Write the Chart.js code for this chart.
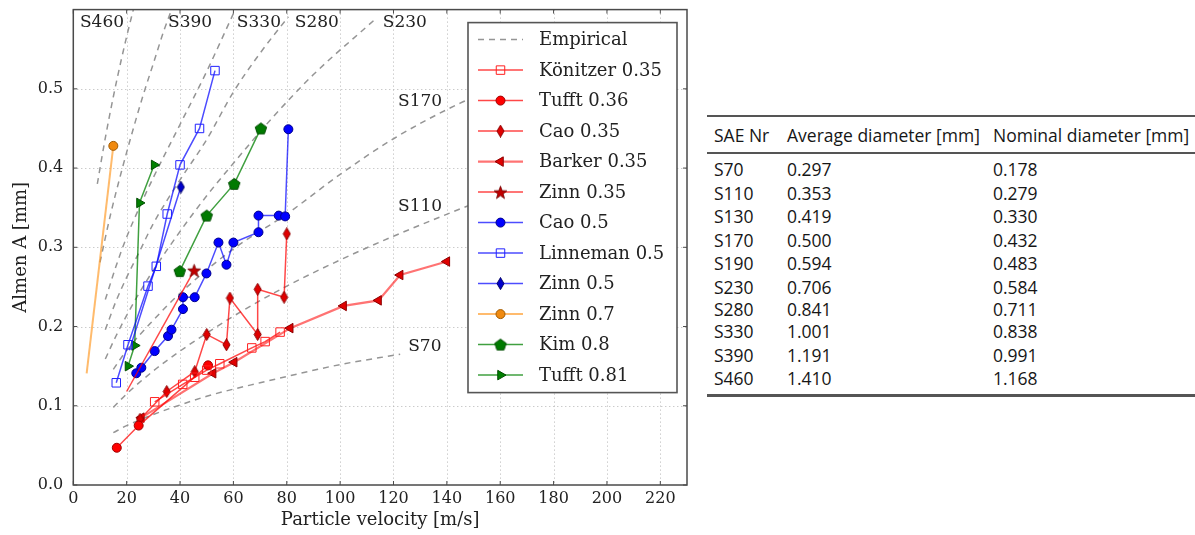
<!DOCTYPE html>
<html><head><meta charset="utf-8">
<script src="https://cdn.jsdelivr.net/npm/chart.js@4.4.0/dist/chart.umd.min.js"></script>
<style>
html,body{margin:0;padding:0;background:#fff;width:1195px;height:535px;overflow:hidden}
#wrap{position:absolute;left:0;top:0;width:700px;height:535px}
#tbl{position:absolute;left:707px;top:0;width:488px;height:535px;font-family:'Open Sans',sans-serif;color:#161616;font-size:17.5px}
.rule{position:absolute;left:0;width:488px;background:#555}
.cell{position:absolute;white-space:nowrap;transform:translateY(-50%);line-height:22px}
</style></head>
<body>
<div id="wrap"><canvas id="c" width="700" height="535"></canvas></div>
<div id="tbl"></div>
<script>
// ---------- axis ticks ----------
const xTicks = [0,20,40,60,80,100,120,140,160,180,200,220];
const yTicks = [0.0,0.1,0.2,0.3,0.4,0.5];

// ---------- empirical curves (velocity m/s, Almen A mm) ----------
const s460V = [9,12,15,18,20,22.5];
const s460A = [0.380,0.438,0.490,0.537,0.566,0.600];
const s390V = [10,14,18,22,26,30,34,36.5];
const s390A = [0.281,0.342,0.395,0.444,0.490,0.532,0.574,0.597];
const s330V = [12,16,20,25,30,40,50,60];
const s330A = [0.234,0.276,0.313,0.352,0.388,0.455,0.522,0.595];
const s280V = [12,16,20,25,30,40,50,60,70,80.6];
const s280A = [0.196,0.232,0.262,0.296,0.330,0.385,0.436,0.496,0.545,0.591];
const s230V = [12,16,20,25,30,40,50,60,75,90,112.5];
const s230A = [0.159,0.188,0.214,0.244,0.271,0.320,0.365,0.406,0.465,0.518,0.586];
const s170V = [15,20,30,40,60,80,100,120,145,152];
const s170A = [0.146,0.170,0.208,0.242,0.298,0.342,0.392,0.437,0.482,0.492];
const s110V = [15,20,30,40,60,80,100,120,152];
const s110A = [0.098,0.115,0.144,0.169,0.213,0.251,0.284,0.314,0.358];
const s70V = [15,20,30,40,50,60,70,80,100,122.5];
const s70A = [0.066,0.075,0.089,0.101,0.112,0.121,0.129,0.137,0.152,0.165];

// ---------- measured series ----------
const konitzerV = [30.5,41,45.5,50,54.9,66.9,71.9,77.5];
const konitzerA = [0.105,0.127,0.136,0.145,0.153,0.173,0.181,0.193];
const tufft036V = [16.3,24.5,50.5];
const tufft036A = [0.047,0.075,0.151];
const cao035V = [25,35,45.5,50,57.4,58.7,69.1,69.1,79,80];
const cao035A = [0.083,0.118,0.143,0.190,0.177,0.236,0.190,0.247,0.237,0.317];
const barkerV = [25.5,52.4,60.3,81.3,101.3,114.4,122.5,140];
const barkerA = [0.085,0.141,0.155,0.198,0.226,0.233,0.265,0.282];
const zinn035V = [20,45.3];
const zinn035A = [0.118,0.271];
const cao05V = [23.6,25.5,30.5,35.5,36.8,41.1,41.1,45.5,49.9,54.4,57.4,60,69.4,69.4,77,79.4,80.6];
const cao05A = [0.141,0.148,0.169,0.188,0.196,0.222,0.237,0.237,0.267,0.306,0.278,0.306,0.319,0.340,0.340,0.339,0.449];
const linnemanV = [16.1,20.5,28,31.1,35.2,40,47.3,53.1];
const linnemanA = [0.129,0.177,0.251,0.276,0.342,0.404,0.450,0.523];
const zinn05V = [21,28.5,40.3];
const zinn05A = [0.170,0.250,0.376];
const zinn07V = [5,15];
const zinn07A = [0.141,0.428];
const kimV = [39.9,50,60.3,70.3];
const kimA = [0.270,0.340,0.380,0.450];
const tufft081V = [20.5,23,24.8,30.3];
const tufft081A = [0.150,0.176,0.356,0.404];

// ---------- table ----------
const tableHead = ['SAE Nr','Average diameter [mm]','Nominal diameter [mm]'];
const saeNr = ['S70','S110','S130','S170','S190','S230','S280','S330','S390','S460'];
const avgDiam = ['0.297','0.353','0.419','0.500','0.594','0.706','0.841','1.001','1.191','1.410'];
const nomDiam = ['0.178','0.279','0.330','0.432','0.483','0.584','0.711','0.838','0.991','1.168'];

const zip = (vs, as) => vs.map((v,i)=>({x:v, y:as[i]}));

// ---------- custom markers ----------
function mk(w,h,fn){const c=document.createElement('canvas');c.width=w;c.height=h;fn(c.getContext('2d'),w,h);return c;}
function thinDiamond(fill,stroke){return mk(9,13,(g,w,h)=>{g.beginPath();g.moveTo(w/2,0.5);g.lineTo(w-1,h/2);g.lineTo(w/2,h-0.5);g.lineTo(1,h/2);g.closePath();g.fillStyle=fill;g.fill();g.strokeStyle=stroke;g.lineWidth=1;g.stroke();});}
function pentagon(fill,stroke){return mk(14,14,(g,w,h)=>{g.beginPath();for(let i=0;i<5;i++){const a=-Math.PI/2+i*2*Math.PI/5;const x=w/2+6*Math.cos(a),y=h/2+0.5+6*Math.sin(a);i?g.lineTo(x,y):g.moveTo(x,y);}g.closePath();g.fillStyle=fill;g.fill();g.strokeStyle=stroke;g.lineWidth=1;g.stroke();});}
function star(fill,stroke){return mk(15,15,(g,w,h)=>{g.beginPath();for(let i=0;i<10;i++){const a=-Math.PI/2+i*Math.PI/5;const r=i%2?2.8:6.8;const x=w/2+r*Math.cos(a),y=h/2+0.8+r*Math.sin(a);i?g.lineTo(x,y):g.moveTo(x,y);}g.closePath();g.fillStyle=fill;g.fill();g.strokeStyle=stroke;g.lineWidth=0.8;g.stroke();});}
const mDiamRed = thinDiamond('#e00000','#8b0000');
const mDiamBlue = thinDiamond('#0000cc','#000066');
const mPent = pentagon('#007a00','#004d00');
const mStar = star('#c00000','#700000');

const RED_L='rgba(255,0,0,0.72)', BLUE_L='rgba(0,0,255,0.7)', GREEN_L='rgba(0,128,0,0.75)', ORANGE_L='rgba(255,150,30,0.65)';

function empirical(label, vs, as, legendText){
  return {label, data:zip(vs,as), showLine:true, borderColor:'#959595', borderWidth:1.5,
    borderDash:[6,5], pointRadius:0, cubicInterpolationMode:'monotone', fill:false,
    legendText, legendMarker:false, order:20};
}
function series(label, vs, as, o){
  return Object.assign({label, legendText:label, data:zip(vs,as), showLine:true, fill:false,
    borderWidth:1.5, pointBorderWidth:1, legendMarker:true, order:1}, o);
}

const datasets = [
  empirical('S460', s460V, s460A, 'Empirical'),
  empirical('S390', s390V, s390A),
  empirical('S330', s330V, s330A),
  empirical('S280', s280V, s280A),
  empirical('S230', s230V, s230A),
  empirical('S170', s170V, s170A),
  empirical('S110', s110V, s110A),
  empirical('S70', s70V, s70A),
  series('Könitzer 0.35', konitzerV, konitzerA, {borderColor:RED_L, pointStyle:'rect', pointRadius:6, pointBackgroundColor:'rgba(0,0,0,0)', pointBorderColor:'#ff2020', legendRadius:6}),
  series('Tufft 0.36', tufft036V, tufft036A, {borderColor:RED_L, pointStyle:'circle', pointRadius:4.5, pointBackgroundColor:'#ff0000', pointBorderColor:'#a00000', legendRadius:4.5}),
  series('Cao 0.35', cao035V, cao035A, {borderColor:RED_L, pointStyle:mDiamRed, pointRadius:4, legendRadius:4}),
  series('Barker 0.35', barkerV, barkerA, {borderColor:'rgba(255,0,0,0.55)', borderWidth:2.2, pointStyle:'triangle', pointRotation:-90, pointRadius:5.5, pointBackgroundColor:'#e00000', pointBorderColor:'#8b0000', legendRadius:5.5}),
  series('Zinn 0.35', zinn035V, zinn035A, {borderColor:RED_L, pointStyle:mStar, pointRadius:[0,4], legendRadius:4}),
  series('Cao 0.5', cao05V, cao05A, {borderColor:BLUE_L, pointStyle:'circle', pointRadius:4.5, pointBackgroundColor:'#0000ff', pointBorderColor:'#00008b', legendRadius:4.5}),
  series('Linneman 0.5', linnemanV, linnemanA, {borderColor:BLUE_L, pointStyle:'rect', pointRadius:6, pointBackgroundColor:'rgba(0,0,0,0)', pointBorderColor:'#2020ff', legendRadius:6}),
  series('Zinn 0.5', zinn05V, zinn05A, {borderColor:BLUE_L, pointStyle:mDiamBlue, pointRadius:[0,0,4], legendRadius:4}),
  series('Zinn 0.7', zinn07V, zinn07A, {borderColor:ORANGE_L, borderWidth:2, pointStyle:'circle', pointRadius:[0,4.5], pointBackgroundColor:'#f08a10', pointBorderColor:'#a05a00', legendRadius:4.5}),
  series('Kim 0.8', kimV, kimA, {borderColor:GREEN_L, pointStyle:mPent, pointRadius:5, legendRadius:5}),
  series('Tufft 0.81', tufft081V, tufft081A, {borderColor:GREEN_L, pointStyle:'triangle', pointRotation:90, pointRadius:5.5, pointBackgroundColor:'#008000', pointBorderColor:'#004d00', legendRadius:5.5})
];

// curve label anchors in data coordinates (left edge of text, vertical centre)
const curveLabels = [
  {text:'S460', x:2.5, y:0.584}, {text:'S390', x:35.5, y:0.584}, {text:'S330', x:61.3, y:0.584},
  {text:'S280', x:83, y:0.584}, {text:'S230', x:116, y:0.584},
  {text:'S170', x:121.7, y:0.484}, {text:'S110', x:121.7, y:0.351}, {text:'S70', x:125.5, y:0.175}
];

const SERIF = "'DejaVu Serif', serif";
const TXT = '#222';

const gridPlugin = {
  id:'dotGrid',
  beforeDatasetsDraw(chart){
    const {ctx, chartArea:a, scales:{x, y}} = chart;
    ctx.save();
    ctx.strokeStyle='#b5b5b5'; ctx.lineWidth=1; ctx.setLineDash([1,3]);
    xTicks.forEach(v=>{ if(v===0) return; const p=Math.round(x.getPixelForValue(v))+0.5; ctx.beginPath(); ctx.moveTo(p,a.top); ctx.lineTo(p,a.bottom); ctx.stroke(); });
    yTicks.forEach(v=>{ if(v===0) return; const p=Math.round(y.getPixelForValue(v))+0.5; ctx.beginPath(); ctx.moveTo(a.left,p); ctx.lineTo(a.right,p); ctx.stroke(); });
    ctx.restore();
  },
  afterDatasetsDraw(chart){
    const {ctx, chartArea:a, scales:{x, y}} = chart;
    ctx.save();
    ctx.font = "17px " + SERIF; ctx.fillStyle = TXT; ctx.textBaseline='middle'; ctx.textAlign='left';
    curveLabels.forEach(l=>ctx.fillText(l.text, x.getPixelForValue(l.x), y.getPixelForValue(l.y)));
    ctx.restore();
    const bw=209, bh=370, bx=a.right-10-bw, by=a.top+13;
    ctx.save();
    ctx.fillStyle='#fff'; ctx.fillRect(bx,by,bw,bh);
    ctx.strokeStyle='#555'; ctx.lineWidth=1.6; ctx.strokeRect(bx,by,bw,bh);
    const entries = chart.data.datasets.filter(d=>d.legendText);
    entries.forEach((d,i)=>{
      const yy = by + 17 + i*30.5, x0 = bx+10, x1 = bx+55;
      ctx.save();
      ctx.strokeStyle=d.borderColor; ctx.lineWidth=d.borderWidth; ctx.setLineDash(d.borderDash||[]);
      ctx.beginPath(); ctx.moveTo(x0,yy); ctx.lineTo(x1,yy); ctx.stroke();
      ctx.restore();
      if(d.legendMarker){
        ctx.save();
        ctx.fillStyle=d.pointBackgroundColor||'#000'; ctx.strokeStyle=d.pointBorderColor||'#000'; ctx.lineWidth=1;
        Chart.helpers.drawPoint(ctx,{pointStyle:d.pointStyle, radius:d.legendRadius, rotation:d.pointRotation||0, borderWidth:1},(x0+x1)/2,yy);
        ctx.restore();
      }
      ctx.save(); ctx.font="18px "+SERIF; ctx.fillStyle=TXT; ctx.textBaseline='middle'; ctx.textAlign='left';
      ctx.fillText(d.legendText, bx+71, yy+1); ctx.restore();
    });
    ctx.restore();
  },
  afterDraw(chart){
    const {ctx, chartArea:a, scales:{x, y}} = chart;
    ctx.save();
    ctx.strokeStyle='#4a4a4a'; ctx.lineWidth=1.5;
    ctx.strokeRect(a.left, a.top, a.right-a.left, a.bottom-a.top);
    ctx.lineWidth=1;
    xTicks.forEach(v=>{ const p=x.getPixelForValue(v); ctx.beginPath(); ctx.moveTo(p,a.bottom); ctx.lineTo(p,a.bottom-4); ctx.moveTo(p,a.top); ctx.lineTo(p,a.top+4); ctx.stroke(); });
    yTicks.forEach(v=>{ const p=y.getPixelForValue(v); ctx.beginPath(); ctx.moveTo(a.left,p); ctx.lineTo(a.left+4,p); ctx.moveTo(a.right,p); ctx.lineTo(a.right-4,p); ctx.stroke(); });
    ctx.restore();
  }
};

new Chart(document.getElementById('c'), {
  type:'scatter',
  data:{datasets},
  options:{
    responsive:false, animation:false, events:[],
    layout:{padding:{left:0,right:13,top:0,bottom:0}},
    plugins:{legend:{display:false}, tooltip:{enabled:false}},
    scales:{
      x:{type:'linear', min:0, max:230,
        afterBuildTicks(s){ s.ticks = xTicks.map(v=>({value:v})); },
        afterFit(s){ s.height = 50; },
        grid:{display:false, drawTicks:true, tickLength:4}, border:{display:false},
        ticks:{padding:0, color:TXT, font:{family:SERIF, size:16}, maxRotation:0, autoSkip:false, callback:v=>String(v)},
        title:{display:true, text:'Particle velocity [m/s]', color:TXT, font:{family:SERIF, size:18}, padding:{top:0,bottom:4}}
      },
      y:{type:'linear', min:0, max:0.6,
        afterBuildTicks(s){ s.ticks = yTicks.map(v=>({value:v})); },
        afterFit(s){ s.width = 73.3; },
        grid:{display:false, drawTicks:true, tickLength:10}, border:{display:false},
        ticks:{padding:0, color:TXT, font:{family:SERIF, size:16}, autoSkip:false, callback:v=>Number(v).toFixed(1)},
        title:{display:true, text:'Almen A [mm]', color:TXT, font:{family:SERIF, size:18}, padding:{top:11,bottom:0}}
      }
    }
  },
  plugins:[gridPlugin]
});

// ---------- table ----------
(function(){
  const t = document.getElementById('tbl');
  const colX = [7, 80, 286];
  const add = (txt, cls, style) => { const d=document.createElement('div'); d.className=cls; d.style.cssText=style; d.textContent=txt; t.appendChild(d); };
  add('', 'rule', 'top:115px;height:2px;');
  tableHead.forEach((h,i)=>add(h,'cell',`left:${colX[i]}px;top:135px;`));
  add('', 'rule', 'top:152px;height:2px;');
  const rowY = [169.3,193.3,216,240,262.7,286.7,308.7,331.3,355,377.7];
  saeNr.forEach((s,r)=>{
    [s, avgDiam[r], nomDiam[r]].forEach((v,i)=>add(v,'cell',`left:${colX[i]}px;top:${rowY[r]}px;`));
  });
  add('', 'rule', 'top:394px;height:2.5px;');
})();
</script>
</body></html>
